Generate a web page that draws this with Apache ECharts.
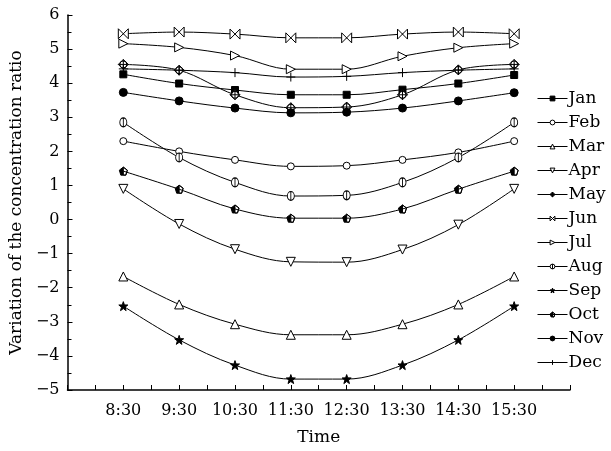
<!DOCTYPE html>
<html>
<head>
<meta charset="utf-8">
<script src="https://cdn.jsdelivr.net/npm/echarts@6/dist/echarts.min.js"></script>
<style>html,body{margin:0;padding:0;background:#fff}#c{width:611px;height:451px}</style>
</head>
<body>
<div id="c"></div>
<script>
const times = ['8:30','9:30','10:30','11:30','12:30','13:30','14:30','15:30'];
const months = ['Jan','Feb','Mar','Apr','May','Jun','Jul','Aug','Sep','Oct','Nov','Dec'];
const Jan = [4.26, 3.99, 3.80, 3.66, 3.66, 3.81, 3.99, 4.24];
const Feb = [2.30, 2.00, 1.75, 1.56, 1.58, 1.75, 1.97, 2.30];
const Mar = [-1.67, -2.49, -3.07, -3.38, -3.38, -3.07, -2.49, -1.67];
const Apr = [0.90, -0.13, -0.87, -1.24, -1.25, -0.88, -0.15, 0.90];
const May = [4.55, 4.38, 3.66, 3.28, 3.30, 3.66, 4.39, 4.55];
const Jun = [5.45, 5.50, 5.44, 5.33, 5.33, 5.44, 5.50, 5.45];
const Jul = [5.16, 5.05, 4.81, 4.41, 4.41, 4.79, 5.04, 5.16];
const Aug = [2.85, 1.82, 1.09, 0.69, 0.71, 1.09, 1.82, 2.85];
const Sep = [-2.54, -3.53, -4.27, -4.68, -4.68, -4.27, -3.53, -2.54];
const Oct = [1.42, 0.89, 0.31, 0.04, 0.04, 0.31, 0.89, 1.42];
const Nov = [3.73, 3.48, 3.27, 3.13, 3.15, 3.27, 3.48, 3.72];
const Dec = [4.42, 4.38, 4.31, 4.18, 4.20, 4.31, 4.38, 4.42];
const values = [Jan, Feb, Mar, Apr, May, Jun, Jul, Aug, Sep, Oct, Nov, Dec];

const FONT = 'DejaVu Serif';
const star = 'path://M10,0 L12.4,7 L20,7.2 L14,11.8 L16.2,19.2 L10,14.8 L3.8,19.2 L6,11.8 L0,7.2 L7.6,7 Z';
const styles = [
  {symbol: 'rect', size: 7, fill: '#000'},
  {symbol: 'circle', size: 7, fill: '#fff'},
  {symbol: 'triangle', size: 9, fill: '#fff'},
  {symbol: 'triangle', size: 9, fill: '#fff', rotate: 180},
  {symbol: 'path://M10,0 L20,10 L10,20 L0,10 Z M10,3 A7,7 0 1,1 9.99,3 Z M10,0 L10,20 M0,10 L20,10', size: 10, fill: '#fff'},
  {symbol: 'path://M0,0 L0,20 L20,0 L20,20 Z', size: 10, fill: '#fff'},
  {symbol: 'triangle', size: 9, fill: '#fff', rotate: -90},
  {symbol: 'path://M10,0 A8,10 0 1,1 9.99,0 Z M10,0 L10,20', size: [7, 9], fill: '#fff'},
  {symbol: star, size: 9, fill: '#000'},
  {symbol: 'path://M10,0 L0,7.6 L3.8,20 L10,20 Z M10,0 L20,7.6 L16.2,20 L10,20 L16.2,20 L20,7.6 Z', size: 8, fill: '#000'},
  {symbol: 'circle', size: 8, fill: '#000'},
  {symbol: 'path://M10,0 L10,20 M0,10 L20,10', size: 9, fill: '#fff'}
];

const series = months.map((m, i) => ({
  name: m,
  type: 'line',
  smooth: 0.35,
  data: values[i].map((v, j) => [j + 1, v]),
  symbol: styles[i].symbol,
  symbolSize: styles[i].size,
  symbolRotate: styles[i].rotate || 0,
  symbolKeepAspect: false,
  showAllSymbol: true,
  lineStyle: {color: '#000', width: 1},
  itemStyle: {color: styles[i].fill, borderColor: '#000', borderWidth: 1},
  emphasis: {disabled: true},
  animation: false
}));

const legendData = months.map((m, i) => ({
  name: m,
  itemStyle: {color: styles[i].fill, borderColor: '#000', borderWidth: 1},
  lineStyle: {color: '#000', width: 1}
}));

const chart = echarts.init(document.getElementById('c'), null, {renderer: 'canvas'});
chart.setOption({
  animation: false,
  backgroundColor: '#fff',
  grid: {left: 66.5, right: 41, top: 15, bottom: 56, containLabel: false},
  legend: {
    orient: 'vertical',
    left: 532,
    top: 85,
    itemWidth: 30,
    itemHeight: 6,
    itemGap: 7,
    data: legendData,
    textStyle: {fontFamily: FONT, fontSize: 17, color: '#000', padding: [0, 0, 0, -4]},
    inactiveColor: '#000'
  },
  xAxis: {
    type: 'value',
    min: 0, max: 9, interval: 0.5,
    name: 'Time',
    nameLocation: 'middle',
    nameGap: 39,
    nameTextStyle: {fontFamily: FONT, fontSize: 17, color: '#000'},
    axisLine: {show: true, onZero: false, lineStyle: {color: '#000', width: 1.5}},
    axisTick: {show: true, inside: true, length: 5, lineStyle: {color: '#000', width: 1}},
    axisLabel: {
      fontFamily: FONT, fontSize: 16, color: '#000', margin: 13,
      formatter: v => (Number.isInteger(v) && v >= 1 && v <= 8) ? times[v - 1] : ''
    },
    splitLine: {show: false}
  },
  yAxis: {
    type: 'value',
    min: -5, max: 6, interval: 1,
    name: 'Variation of the concentration ratio',
    nameLocation: 'middle',
    nameGap: 36,
    nameTextStyle: {fontFamily: FONT, fontSize: 17, color: '#000'},
    axisLine: {show: true, onZero: false, lineStyle: {color: '#000', width: 1.5}},
    axisTick: {show: true, inside: true, length: 5, lineStyle: {color: '#000', width: 1}},
    minorTick: {show: true, splitNumber: 2, length: 4, lineStyle: {color: '#000', width: 1}},
    axisLabel: {fontFamily: FONT, fontSize: 16, color: '#000', margin: 8,
      formatter: v => v < 0 ? '\u2212' + Math.abs(v) : String(v)},
    splitLine: {show: false}
  },
  series: series
});
</script>
</body>
</html>
